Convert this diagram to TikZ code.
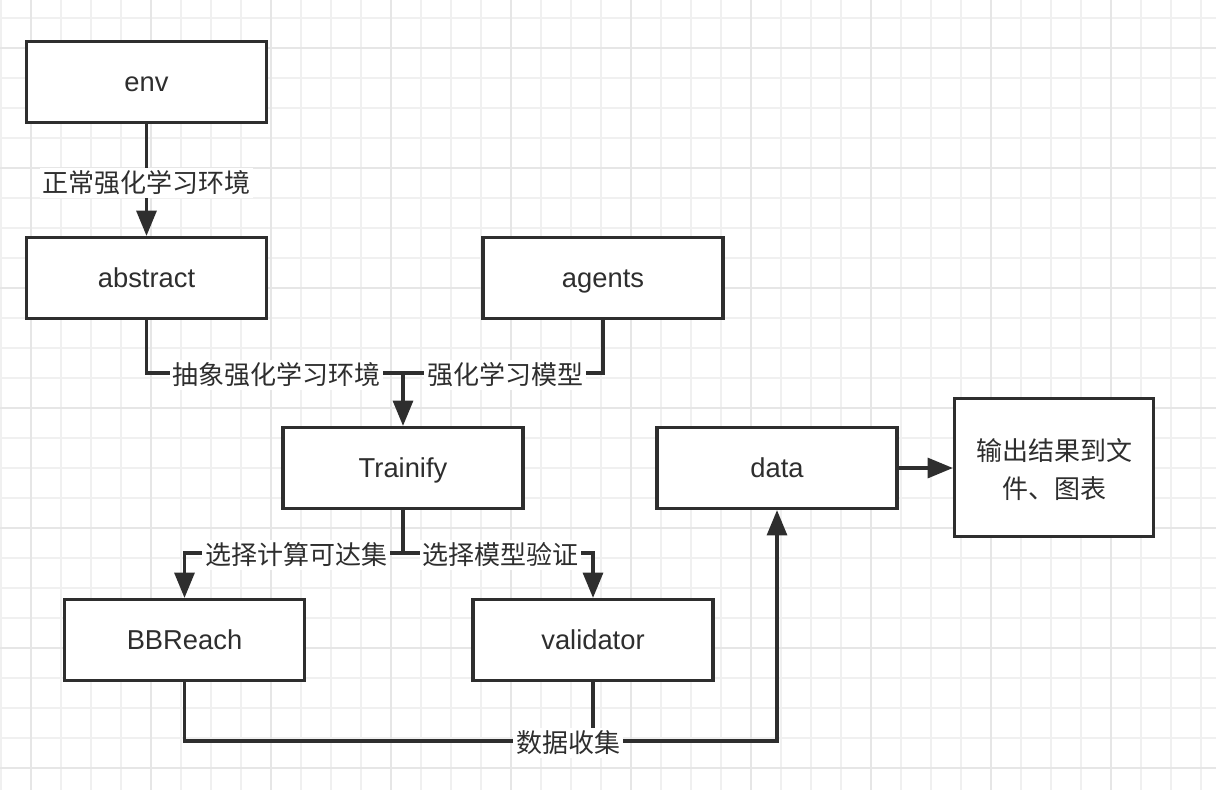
\documentclass[tikz,border=0pt]{standalone}
\usepackage{fontspec}
\setmainfont{Liberation Sans}
\newfontfamily\cjk{Noto Sans CJK SC}
\usetikzlibrary{arrows.meta}

\definecolor{ink}{HTML}{2E2E2E}
\definecolor{gridminor}{HTML}{F0F0F0}
\definecolor{gridmajor}{HTML}{E6E6E6}

\tikzset{
  box/.style={draw=ink, line width=2.4pt, fill=white, text=ink,
    minimum width=180pt, minimum height=60.75pt,
    text height=16.5pt, text depth=1.75pt,
    font=\fontsize{20.5}{24}\selectfont},
  link/.style={draw=ink, line width=2.4pt, -{Triangle[length=19pt,width=15pt]}},
  plain/.style={draw=ink, line width=2.4pt},
  lbl/.style={fill=white, text=ink, inner sep=2pt,
    font=\cjk\fontsize{19.5}{23}\selectfont},
}

\begin{document}
\begin{tikzpicture}[x=0.75pt, y=-0.75pt]
  \useasboundingbox (0,0) rectangle (1216,790);
  \fill[white] (0,0) rectangle (1216,790);

  % Background grid
  \foreach \x in {0.7,30.7,...,1216} \draw[gridminor, line width=1.3pt] (\x,0) -- (\x,790);
  \foreach \y in {18.3,48.3,...,790} \draw[gridminor, line width=1.3pt] (0,\y) -- (1216,\y);
  \foreach \x in {30.7,150.7,...,1216} \draw[gridmajor, line width=1.3pt] (\x,0) -- (\x,790);
  \foreach \y in {48.3,168.3,...,790} \draw[gridmajor, line width=1.3pt] (0,\y) -- (1216,\y);

  % Boxes
  \node[box] (env)      at (146.5,82)  {env};
  \node[box] (abstract) at (146.5,278) {abstract};
  \node[box] (agents)   at (603,278)   {agents};
  \node[box] (trainify) at (403,468)   {Trainify};
  \node[box] (data)     at (777,468)   {data};
  \node[box, minimum width=149.25pt, minimum height=103.5pt, align=center,
        text height=47pt, text depth=0pt,
        font=\cjk\fontsize{19.5}{28.5}\selectfont] (out) at (1054,467.5) {输出结果到文\\件、图表};
  \node[box] (bbreach)  at (184.5,640) {BBReach};
  \node[box] (validator) at (593,640)  {validator};

  % Bend points
  \coordinate (merge) at (403,373);
  \coordinate (split) at (403,553);
  \coordinate (collect) at (777,741);

  % Connectors
  \draw[link] (env) -- (abstract)
    node[lbl] at (146.5,183) {正常强化学习环境};
  \draw[plain] (agents.south) |- (merge)
    node[lbl] at (505,375) {强化学习模型};
  \draw[link] (abstract.south) |- (merge) -- (trainify.north)
    node[lbl] at (276.5,375) {抽象强化学习环境};
  \draw[link] (trainify.south) -- (split) -| (bbreach.north)
    node[lbl] at (296,555) {选择计算可达集};
  \draw[link] (split) -| (validator.north)
    node[lbl] at (500.5,555) {选择模型验证};
  \draw[plain] (validator.south) -- (validator.south |- collect);
  \draw[link] (bbreach.south) |- (collect) -- (data.south)
    node[lbl] at (568,743) {数据收集};
  \draw[link] (data.east) -- (data.east -| out.west);
\end{tikzpicture}
\end{document}
